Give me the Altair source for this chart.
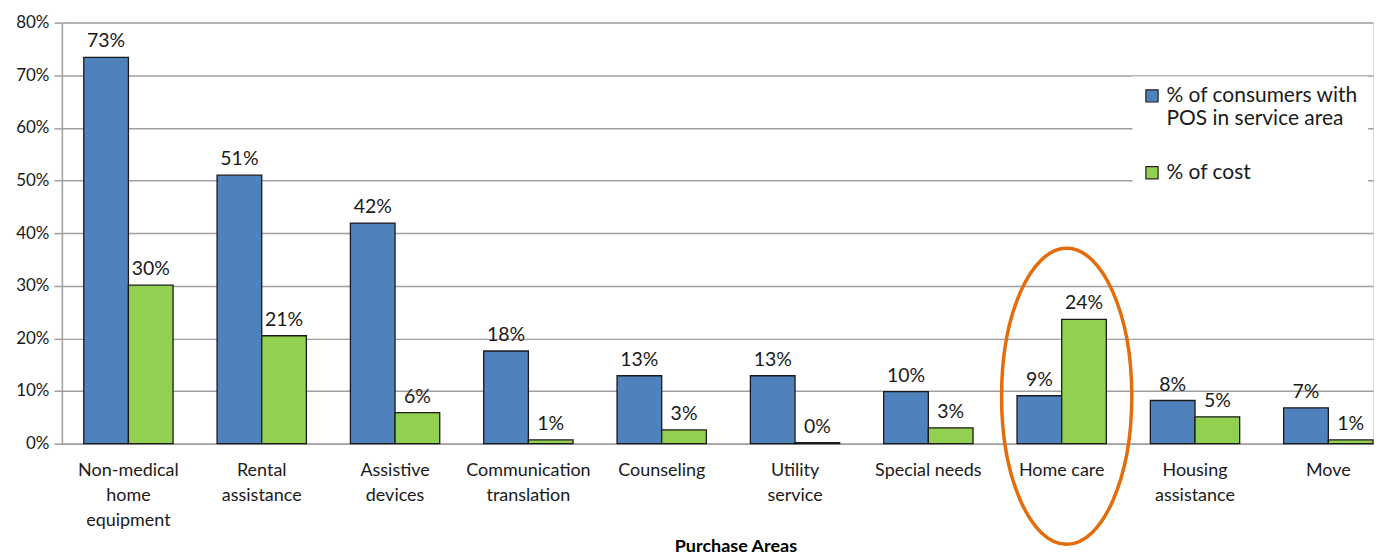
import altair as alt
import pandas as pd

categories = ["Non-medical|home|equipment", "Rental|assistance", "Assistive|devices",
              "Communication|translation", "Counseling", "Utility|service",
              "Special needs", "Home care", "Housing|assistance", "Move"]
series = ["% of consumers with POS in service area", "% of cost"]
consumers = [0.734, 0.510, 0.419, 0.176, 0.129, 0.129, 0.099, 0.091, 0.082, 0.068]
cost = [0.301, 0.205, 0.059, 0.007, 0.026, 0.002, 0.030, 0.236, 0.051, 0.007]
colors = ["#4F81BD", "#92D050"]
y_ticks = [0, 0.1, 0.2, 0.3, 0.4, 0.5, 0.6, 0.7, 0.8]
highlight = "Home care"
highlight_center = 0.09

rows = []
for c, a, b in zip(categories, consumers, cost):
    rows.append({"category": c, "series": series[0], "value": a})
    rows.append({"category": c, "series": series[1], "value": b})
df = pd.DataFrame(rows)

FONT = "Lato"

x_enc = alt.X("category:N", sort=categories,
              scale=alt.Scale(domain=categories, paddingInner=0.33, paddingOuter=0.082, align=1),
              axis=alt.Axis(title="Purchase Areas", labelAngle=0,
                            labelExpr="split(datum.label, '|')",
                            labelFontSize=18, labelLineHeight=25, labelPadding=18,
                            labelColor="#1a1a1a", labelFont=FONT,
                            ticks=False, domainColor="#a0a0a0", domainWidth=1.5,
                            titleFont=FONT, titleFontSize=18, titleFontWeight="bold",
                            titleColor="#000000", titlePadding=8, titleX=675,
                            labelLimit=200))
y_enc = alt.Y("value:Q",
              scale=alt.Scale(domain=[0, 0.8], nice=False),
              axis=alt.Axis(values=y_ticks, format=".0%", title=None,
                            labelFontSize=17, labelFont=FONT, labelColor="#1a1a1a",
                            tickSize=8, tickColor="#a0a0a0", tickWidth=1.5,
                            domainColor="#a0a0a0", domainWidth=1.5,
                            gridColor="#a0a0a0", gridWidth=1.5, labelPadding=5))
color_enc = alt.Color("series:N", sort=series,
                      scale=alt.Scale(domain=series, range=colors),
                      title=None,
                      legend=alt.Legend(orient="none", legendX=1073, legendY=54,
                                        fillColor="white", padding=9,
                                        symbolType="square", symbolSize=150,
                                        symbolStrokeColor="#222222", symbolStrokeWidth=1.2,
                                        symbolOpacity=1, labelOffset=4,
                                        labelFont=FONT, labelFontSize=21, labelColor="#1a1a1a",
                                        labelLimit=300, rowPadding=32,
                                        labelExpr="datum.label == '% of consumers with POS in service area' ? ['% of consumers with', 'POS in service area'] : datum.label"))

base = alt.Chart(df).encode(
    x=x_enc,
    xOffset=alt.XOffset("series:N", sort=series, scale=alt.Scale(paddingInner=0, paddingOuter=0)),
    y=y_enc,
)

bars = base.mark_bar(stroke="#1a1a1a", strokeWidth=1.3).encode(color=color_enc)
labels = base.mark_text(baseline="bottom", dy=-6, fontSize=19.5, font=FONT, color="#1a1a1a").encode(
    text=alt.Text("value:Q", format=".0%"))

ell_df = pd.DataFrame({"category": [highlight], "value": [highlight_center]})
ellipse = alt.Chart(ell_df).mark_point(
    shape="M -0.44 0 A 0.44 1 0 1 0 0.44 0 A 0.44 1 0 1 0 -0.44 0",
    filled=False, stroke="#E46C0A", strokeWidth=3.5, size=88000, opacity=1,
    xOffset=5,
).encode(x=alt.X("category:N", sort=categories), y=alt.Y("value:Q"))

chart = alt.layer(bars, labels, ellipse).properties(
    width=1314, height=422,
    padding={"left": 7, "right": 0, "top": 5, "bottom": 0},
).configure_view(stroke=None).configure(font=FONT, background="white")

chart.save("out.html", embed_options={"renderer": "svg", "actions": False})
